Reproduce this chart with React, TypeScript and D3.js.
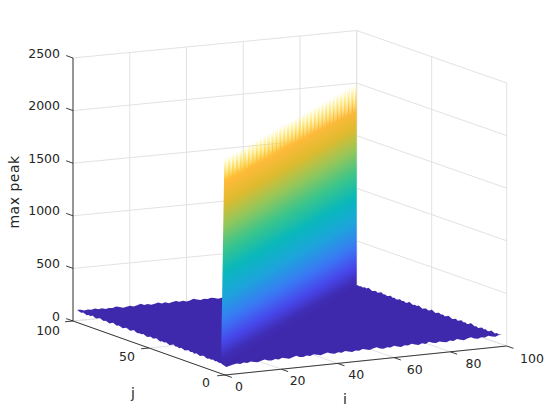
import React from "react";
import * as d3 from "d3";

const iTicks = [0, 20, 40, 60, 80, 100];
const jTicks = [0, 50, 100];
const zTicks = [0, 500, 1000, 1500, 2000, 2500];

// floor height along the visible rim of the surface
const rimLeftFront = [108, 100, 94, 103, 96, 88, 98, 93, 105, 96, 90, 99, 107, 97, 91, 101, 95, 87, 97, 106, 96, 91, 100, 94, 86, 96, 103, 95, 89, 98, 107, 96, 90, 97, 92, 102, 95, 86, 94, 101, 91, 97, 105, 94, 87, 96, 90, 99, 92, 85, 95, 103, 91, 96, 88, 98, 92, 86, 94, 101, 90, 95, 87, 97, 91, 84, 93, 99, 89, 83, 92, 87, 95, 85, 90, 83, 87, 80, 74, 68];
const rimFrontRight = [68, 76, 84, 90, 83, 94, 86, 96, 89, 83, 93, 101, 90, 85, 96, 89, 102, 94, 86, 97, 106, 92, 87, 98, 91, 103, 95, 88, 99, 108, 93, 88, 98, 92, 104, 96, 87, 99, 93, 107, 97, 89, 100, 110, 94, 89, 99, 92, 105, 96, 88, 100, 94, 108, 97, 90, 102, 93, 111, 98, 91, 103, 95, 89, 101, 94, 108, 98, 90, 103, 112, 96, 91, 101, 95, 109, 99, 92, 105, 112];
const rimRightBack = [112, 103, 96, 102, 92, 99, 108, 95, 90, 101, 94, 106, 97, 89, 100, 93, 104, 111, 95, 90, 99, 93, 107, 98, 90, 101, 94, 87, 98, 106, 94, 89, 100, 93, 103, 96, 88, 98, 109, 94, 89, 100, 93, 86, 97, 105, 93, 99, 90, 98, 108, 94, 88, 98, 92, 102, 94, 87, 97, 91, 104, 96, 88, 98, 93, 107, 97, 89, 100, 93, 87, 97, 105, 93, 99, 90, 96, 88, 94, 86];
const rimBackLeft = [86, 94, 89, 98, 91, 100, 93, 87, 96, 104, 92, 99, 89, 96, 88, 97, 107, 93, 87, 98, 91, 102, 95, 88, 99, 92, 85, 96, 105, 93, 87, 98, 89, 100, 109, 95, 88, 97, 91, 84, 94, 101, 91, 97, 88, 96, 106, 93, 87, 98, 91, 102, 95, 87, 99, 92, 104, 96, 88, 99, 92, 108, 97, 89, 100, 93, 86, 96, 104, 93, 98, 91, 102, 95, 106, 97, 103, 96, 106, 110];

// peak and saddle heights along the diagonal i = j
const ridgePeak = [2063, 2060, 2064, 2058, 2061, 2056, 2060, 2054, 2058, 2053, 2056, 2051, 2055, 2049, 2053, 2048, 2052, 2046, 2050, 2045, 2049, 2043, 2047, 2042, 2046, 2040, 2044, 2039, 2043, 2037, 2041, 2036, 2040, 2035, 2038, 2033, 2037, 2032, 2036, 2030, 2034, 2029, 2033, 2028, 2032, 2026, 2030, 2025, 2029, 2024, 2027, 2022, 2026, 2021, 2025, 2019, 2023, 2018, 2022, 2017, 2021, 2015, 2019, 2014, 2018, 2013, 2016, 2011, 2015, 2010, 2014, 2009, 2013, 2008, 2012, 2007, 2011, 2006, 2010, 2005, 2009, 2004, 2008, 2003, 2007, 2002, 2006, 2001, 2005, 2000, 2004, 1999, 2003, 1999, 2002, 1998, 2002, 2000, 2001];
const ridgeSaddle = [1854, 1851, 1856, 1848, 1852, 1845, 1850, 1842, 1847, 1840, 1845, 1837, 1842, 1835, 1840, 1832, 1837, 1830, 1835, 1827, 1832, 1825, 1830, 1822, 1827, 1820, 1825, 1817, 1822, 1815, 1820, 1812, 1817, 1810, 1815, 1807, 1812, 1805, 1810, 1802, 1807, 1800, 1805, 1797, 1802, 1795, 1800, 1792, 1797, 1790, 1795, 1787, 1792, 1785, 1790, 1782, 1787, 1780, 1785, 1777, 1782, 1775, 1780, 1772, 1777, 1770, 1775, 1767, 1772, 1765, 1770, 1762, 1767, 1760, 1765, 1757, 1762, 1755, 1760, 1752, 1757, 1750, 1755, 1747, 1752, 1745, 1749, 1742, 1746, 1738, 1743, 1735, 1739, 1730, 1734, 1726, 1729, 1720];

const parulaStops = ["#3e26a8", "#3f2db5", "#4746eb", "#3a78f5", "#1ea3dc", "#08b8bb", "#3cc58a", "#95c75a", "#dfba2e", "#feba3a", "#f9fb15"];
const parulaPos = [0, 0.05, 0.12, 0.21, 0.32, 0.44, 0.55, 0.66, 0.76, 0.85, 1];

const width = 560;
const height = 420;
const zMin = 80;
const zMax = 2130;
const isoSlope = 0.57;

// base plane is mapped through its four screen corners
const corner = {
  front: [225, 375],
  right: [506.7, 346],
  left: [73, 321],
  back: [356.7, 293.5],
};
const unit = d3.scaleLinear().domain([0, 100]).range([0, 1]);
const zPx = d3.scaleLinear().domain([0, 2500]).range([0, 263]);
const diagonal = d3.scaleLinear().domain([0, 98]).range([-0.5, 100]);

const project = (i: number, j: number, z = 0): [number, number] => {
  const u = unit(i);
  const v = unit(j);
  const mix = (k: number) =>
    corner.front[k] * (1 - u) * (1 - v) +
    corner.right[k] * u * (1 - v) +
    corner.left[k] * (1 - u) * v +
    corner.back[k] * u * v;
  return [mix(0), mix(1) - zPx(z)];
};

const parula = d3
  .scaleLinear<string>()
  .domain(parulaPos)
  .range(parulaStops)
  .interpolate(d3.interpolateRgb);

const line = d3.line();
const rimPos = (values: number[]) =>
  d3.scaleLinear().domain([0, values.length - 1]).range([1, 99]);

// ticks and gridlines
const pairs = (a: [number, number], b: [number, number]) => line([a, b]) as string;

const gridPaths: string[] = [
  ...iTicks.map((i) => pairs(project(i, 0), project(i, 100))),
  ...iTicks.map((i) => pairs(project(i, 100), project(i, 100, 2500))),
  ...jTicks.map((j) => pairs(project(0, j), project(100, j))),
  ...jTicks.map((j) => pairs(project(100, j), project(100, j, 2500))),
  ...zTicks.map((z) => pairs(project(0, 100, z), project(100, 100, z))),
  ...zTicks.map((z) => pairs(project(100, 100, z), project(100, 0, z))),
];

const axisPaths: string[] = [
  pairs(project(0, 0), project(100, 0)),
  pairs(project(0, 0), project(0, 100)),
  pairs(project(0, 100), project(0, 100, 2500)),
  ...iTicks.map((i) => pairs(project(i, 0), project(i, -4.5))),
  ...jTicks.map((j) => pairs(project(0, j), project(-2.8, j))),
  ...zTicks.map((z) => pairs(project(0, 100, z), project(0, 104.5, z))),
];

// tick label anchors
const iLabelX = d3.scaleLinear().domain([0, 100]).range([239, 532]);
const iLabelY = d3.scaleLinear().domain([0, 100]).range([387, 359]);
const jLabelX = d3.scaleLinear().domain([0, 100]).range([210, 60]);
const jLabelY = d3.scaleLinear().domain([0, 100]).range([383, 331]);

const floorOutline = () => {
  const a = rimPos(rimLeftFront);
  const b = rimPos(rimFrontRight);
  const c = rimPos(rimRightBack);
  const d = rimPos(rimBackLeft);
  const pts: [number, number][] = [
    ...rimLeftFront.map((z, n) => project(1, 100 - a(n), z)),
    ...rimFrontRight.map((z, n) => project(b(n), 1, z)),
    ...rimRightBack.map((z, n) => project(99, c(n), z)),
    ...rimBackLeft.map((z, n) => project(100 - d(n), 99, z)),
  ];
  return line(pts) + "Z";
};

const wallOutline = () => {
  const pts: [number, number][] = [project(0, 2.5, 180)];
  ridgePeak.forEach((z, n) => {
    pts.push(project(diagonal(n), diagonal(n), z));
    if (n < ridgeSaddle.length) {
      const t = diagonal(n + 0.5);
      pts.push(project(t, t, ridgeSaddle[n]));
    }
  });
  pts.push(project(100, 100, 80));
  pts.push(project(1, 1, 70));
  return line(pts) + "Z";
};

// gradient runs across the iso-height lines of the wall
const gradientEnds = () => {
  const [x0, y0] = project(0, 0, zMin);
  const len = Math.hypot(isoSlope, 1);
  const span = (zPx(zMax) - zPx(zMin)) / len;
  return { x1: x0, y1: y0, x2: x0 - (span * isoSlope) / len, y2: y0 - span / len };
};

export default function App() {
  const g = gradientEnds();
  return (
    <svg
      width={width}
      height={height}
      style={{ position: "absolute", left: 0, top: 0 }}
      fontFamily="DejaVu Sans"
    >
      <defs>
        <linearGradient id="wallFill" gradientUnits="userSpaceOnUse" {...g}>
          {d3.range(0, 1.001, 0.025).map((t) => (
            <stop key={t} offset={t} stopColor={parula(t)} />
          ))}
        </linearGradient>
      </defs>
      <rect width={width} height={height} fill="#fff" />
      {gridPaths.map((d, n) => (
        <path key={n} d={d} stroke="#e2e2e2" strokeWidth={1} fill="none" />
      ))}
      {axisPaths.map((d, n) => (
        <path key={n} d={d} stroke="#262626" strokeWidth={0.9} fill="none" />
      ))}
      <path d={floorOutline()} fill={parula(0.02)} />
      <path d={wallOutline()} fill="url(#wallFill)" />

      <g fontSize={12.5} fill="#262626">
        {zTicks.map((z) => (
          <text key={z} x={60} y={project(0, 100, z)[1] - 4} textAnchor="end" dominantBaseline="middle">
            {z}
          </text>
        ))}
        {iTicks.map((i) => (
          <text key={i} x={iLabelX(i)} y={iLabelY(i)} textAnchor="middle" dominantBaseline="middle">
            {i}
          </text>
        ))}
        {jTicks.map((j) => (
          <text key={j} x={jLabelX(j)} y={jLabelY(j)} textAnchor="end" dominantBaseline="middle">
            {j}
          </text>
        ))}
      </g>
      <g fontSize={14} fill="#262626" textAnchor="middle">
        <text transform="translate(19,192) rotate(-90)" letterSpacing={0.5}>max peak</text>
        <text x={133} y={398}>j</text>
        <text x={345} y={404}>i</text>
      </g>
    </svg>
  );
}
